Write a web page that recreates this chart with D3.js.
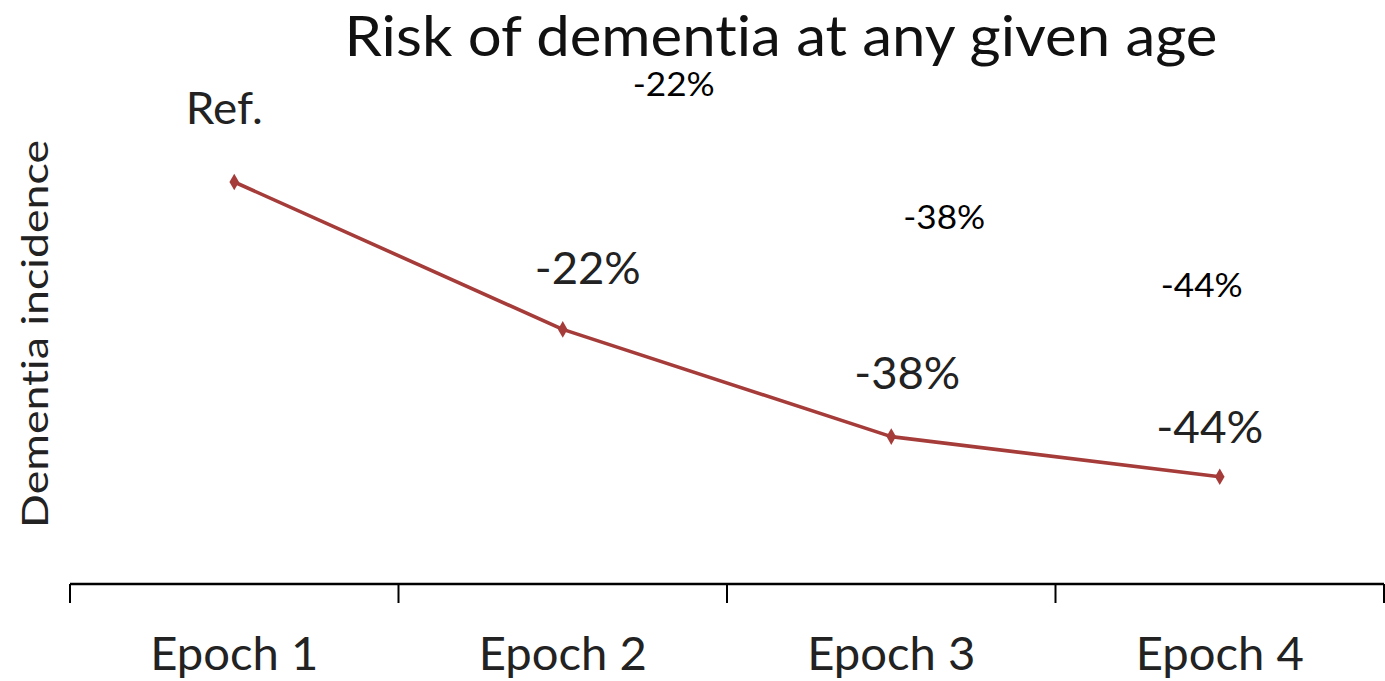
<!DOCTYPE html>
<html>
<head>
<meta charset="utf-8">
<script src="https://cdn.jsdelivr.net/npm/d3@7"></script>
<style>
  html, body { margin: 0; padding: 0; background: #fff; }
  svg { display: block; }
  text { font-family: Lato, "Open Sans", sans-serif; fill: #1a1a1a; font-variant-ligatures: none; font-feature-settings: "liga" 0, "clig" 0; }
</style>
</head>
<body>
<svg id="chart" width="1385" height="681"></svg>
<script>
// Epochs and relative dementia incidence (Epoch 1 = reference)
const epochs = ["Epoch 1", "Epoch 2", "Epoch 3", "Epoch 4"];
const incidence = [1.00, 0.78, 0.62, 0.56];
const pointLabels = ["Ref.", "-22%", "-38%", "-44%"];
// Secondary set of change labels shown higher up in the plot
const changeEpochs = ["Epoch 2", "Epoch 3", "Epoch 4"];
const changeLabels = ["-22%", "-38%", "-44%"];

const W = 1385, H = 681;
const margin = { left: 70, right: 1, top: 182, bottom: 97 };
const svg = d3.select("#chart");

const x = d3.scaleBand()
  .domain(epochs)
  .range([margin.left, W - margin.right])
  .padding(0);

const y = d3.scaleLinear()
  .domain([0.4, 1.0])
  .range([H - margin.bottom, margin.top]);

// x axis: baseline with ticks at band edges
const axisY = y(0.4);
const xAxis = svg.append("g").attr("transform", `translate(0,${axisY})`);
xAxis.append("line")
  .attr("x1", x.range()[0]).attr("x2", x.range()[1])
  .attr("stroke", "#000").attr("stroke-width", 2.5);
const edges = epochs.map(d => x(d)).concat([x(epochs[epochs.length - 1]) + x.bandwidth()]);
xAxis.selectAll("line.tick").data(edges).join("line")
  .attr("class", "tick")
  .attr("x1", d => d).attr("x2", d => d)
  .attr("y1", 0).attr("y2", 19)
  .attr("stroke", "#000").attr("stroke-width", 2);
xAxis.selectAll("text").data(epochs).join("text")
  .attr("x", d => x(d) + x.bandwidth() / 2)
  .attr("y", 86)
  .attr("text-anchor", "middle")
  .attr("font-size", 46)
  .attr("textLength", 168)
  .attr("lengthAdjust", "spacingAndGlyphs")
  .style("fill", "#222")
  .text(d => d);

// Title
svg.append("text")
  .attr("x", 781).attr("y", 56)
  .attr("text-anchor", "middle")
  .attr("font-size", 57)
  .attr("textLength", 873)
  .attr("lengthAdjust", "spacingAndGlyphs")
  .style("fill", "#111")
  .text("Risk of dementia at any given age");

// Y axis title
svg.append("text")
  .attr("transform", `translate(48,334) rotate(-90)`)
  .attr("text-anchor", "middle")
  .attr("font-size", 37)
  .attr("textLength", 388)
  .attr("lengthAdjust", "spacingAndGlyphs")
  .style("fill", "#222")
  .text("Dementia incidence");

// Line series
const pts = epochs.map((e, i) => ({ e, v: incidence[i], label: pointLabels[i] }));
const cx = d => x(d.e) + x.bandwidth() / 2;
const line = d3.line().x(cx).y(d => y(d.v));
svg.append("path")
  .datum(pts)
  .attr("d", line)
  .attr("fill", "none")
  .attr("stroke", "#a53c3a")
  .attr("stroke-width", 3.6)
  .attr("stroke-linejoin", "round");

svg.selectAll("path.marker").data(pts).join("path")
  .attr("class", "marker")
  .attr("transform", d => `translate(${cx(d)},${y(d.v)})`)
  .attr("d", d3.symbol(d3.symbolDiamond, 80))
  .attr("fill", "#a53c3a");

// Point labels above each marker
const labelOffset = [
  { dx: -10, dy: -58, w: 77 },
  { dx: 25, dy: -45, w: 106 },
  { dx: 16, dy: -48, w: 106 },
  { dx: -10, dy: -34, w: 107 }
];
svg.selectAll("text.plabel").data(pts).join("text")
  .attr("class", "plabel")
  .attr("x", (d, i) => cx(d) + labelOffset[i].dx)
  .attr("y", (d, i) => y(d.v) + labelOffset[i].dy)
  .attr("text-anchor", "middle")
  .attr("font-size", 45)
  .attr("textLength", (d, i) => labelOffset[i].w)
  .attr("lengthAdjust", "spacingAndGlyphs")
  .style("fill", "#222")
  .text(d => d.label);

// Secondary change labels
const changePos = [
  { dx: 111, y: 96 },
  { dx: 53, y: 229 },
  { dx: -18, y: 297 }
];
svg.selectAll("text.clabel").data(changeEpochs).join("text")
  .attr("class", "clabel")
  .attr("x", (d, i) => x(d) + x.bandwidth() / 2 + changePos[i].dx)
  .attr("y", (d, i) => changePos[i].y)
  .attr("text-anchor", "middle")
  .attr("font-size", 33)
  .attr("textLength", 82)
  .attr("lengthAdjust", "spacingAndGlyphs")
  .style("fill", "#000")
  .text((d, i) => changeLabels[i]);
</script>
</body>
</html>
